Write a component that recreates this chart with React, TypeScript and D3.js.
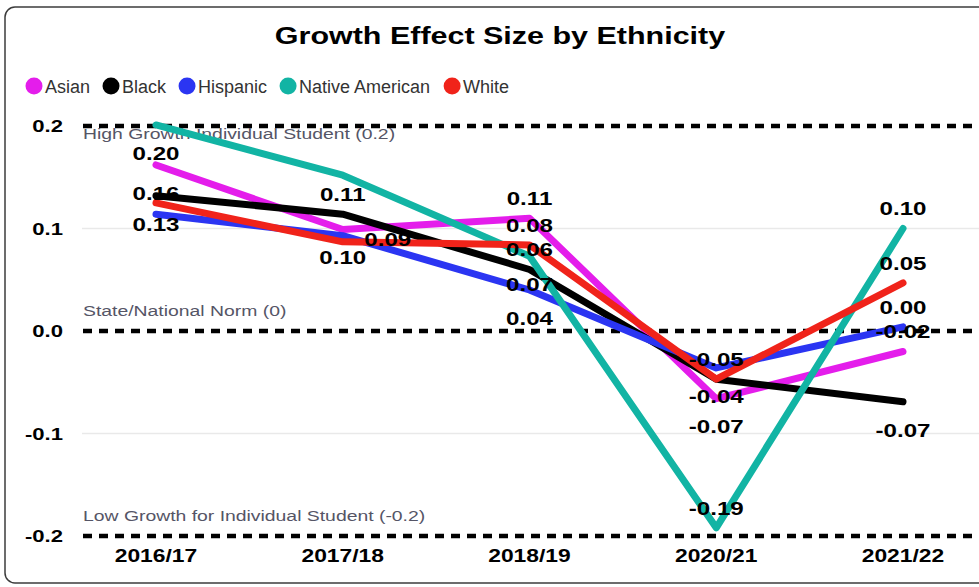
import React, { useMemo } from 'react';
import * as d3 from 'd3';

const categories = ['2016/17', '2017/18', '2018/19', '2020/21', '2021/22'];
const seriesNames = ['Asian', 'Black', 'Hispanic', 'Native American', 'White'];
const asian = [0.162, 0.099, 0.110, -0.066, -0.020];
const black = [0.132, 0.114, 0.060, -0.047, -0.069];
const hispanic = [0.114, 0.093, 0.040, -0.036, 0.004];
const nativeAmerican = [0.201, 0.152, 0.073, -0.192, 0.100];
const white = [0.125, 0.087, 0.084, -0.047, 0.047];
const seriesColors = ['#E41DEB', '#000000', '#2B35F2', '#12B4A4', '#F0231A'];

const yTicks = [0.2, 0.1, 0.0, -0.1, -0.2];
const refValues = [0.2, 0.0, -0.2];
const refTexts = ['High Growth Individual Student (0.2)', 'State/National Norm (0)', 'Low Growth for Individual Student (-0.2)'];
const refTextPlacement = ['below', 'above', 'above'];

// data labels that are shown: [series, category index, placement]
const shownLabels: [string, number, string][] = [
  ['Native American', 0, 'below'], ['Asian', 0, 'below'], ['Black', 0, 'below'],
  ['Black', 1, 'above'], ['White', 1, 'right'], ['Asian', 1, 'below'],
  ['Asian', 2, 'above'], ['White', 2, 'above'], ['Black', 2, 'above'], ['Native American', 2, 'below'], ['Hispanic', 2, 'below'],
  ['White', 3, 'above'], ['Hispanic', 3, 'below'], ['Asian', 3, 'below'], ['Native American', 3, 'above'],
  ['Native American', 4, 'above'], ['White', 4, 'above'], ['Hispanic', 4, 'above'], ['Asian', 4, 'above'], ['Black', 4, 'below'],
];

const W = 979;
const H = 587;
const STRETCH = 1.27;

export default function App() {
  const seriesValues = [asian, black, hispanic, nativeAmerican, white];
  const x = d3.scalePoint<string>().domain(categories).range([156, 903]);
  const y = d3.scaleLinear().domain([-0.2, 0.2]).range([536, 126]);
  const line = d3.line<number>().x((_, i) => x(categories[i]) as number).y((v) => y(v));

  const legend = useMemo(() => {
    const canvas = document.createElement('canvas');
    const ctx = canvas.getContext('2d')!;
    ctx.font = '18px "Liberation Sans", Arial, sans-serif';
    let cx = 34;
    return seriesNames.map((name, i) => {
      const w = ctx.measureText(name).width;
      const item = { name, color: seriesColors[i], cx, tx: cx + 11 };
      cx = cx + 11 + w + 21;
      return item;
    });
  }, []);

  const gridStart = 82;
  const boldFont = '"Liberation Sans", Arial, sans-serif';

  return (
    <svg width={W} height={H} style={{ position: 'fixed', left: 0, top: 0, background: '#fff' }}>
      <rect x={5} y={7} width={1000} height={576} rx={10} ry={10} fill="#fff" stroke="#3c3c3c" strokeWidth={1.5} />
      <text transform={`translate(500,44) scale(${STRETCH},1)`} textAnchor="middle" fontFamily={boldFont} fontWeight="bold" fontSize={24} fill="#000">
        Growth Effect Size by Ethnicity
      </text>
      {legend.map((l) => (
        <g key={l.name}>
          <circle cx={l.cx} cy={86} r={8.5} fill={l.color} />
          <text x={l.tx} y={92.5} fontFamily={boldFont} fontSize={18} fill="#333">{l.name}</text>
        </g>
      ))}
      {yTicks.filter((t) => !refValues.includes(t)).map((t) => (
        <line key={'g' + t} x1={gridStart} x2={W} y1={y(t)} y2={y(t)} stroke="#e9e9e9" strokeWidth={1.5} />
      ))}
      {refValues.map((v, i) => (
        <g key={'r' + v}>
          <line x1={83} x2={W} y1={y(v)} y2={y(v)} stroke="#000" strokeWidth={4.5} strokeDasharray="9 7" />
          <text transform={`translate(83,${refTextPlacement[i] === 'below' ? y(v) + 13 : y(v) - 15.5}) scale(1.25,1)`} fontFamily={boldFont} fontSize={15.5} fill="#555566">
            {refTexts[i]}
          </text>
        </g>
      ))}
      {yTicks.map((t) => (
        <text key={'t' + t} transform={`translate(63,${y(t) + 6}) scale(1.3,1)`} textAnchor="end" fontFamily={boldFont} fontWeight="bold" fontSize={17} fill="#000">
          {t.toFixed(1)}
        </text>
      ))}
      {categories.map((c) => (
        <text key={c} transform={`translate(${x(c)},562) scale(${STRETCH},1)`} textAnchor="middle" fontFamily={boldFont} fontWeight="bold" fontSize={18} fill="#000">
          {c}
        </text>
      ))}
      {seriesValues.map((vals, si) => (
        <path key={seriesNames[si]} d={line(vals) as string} fill="none" stroke={seriesColors[si]} strokeWidth={7} strokeLinejoin="round" strokeLinecap="round" />
      ))}
      {shownLabels.map(([name, i, pos]) => {
        const si = seriesNames.indexOf(name);
        const v = seriesValues[si][i];
        const px = (x(categories[i]) as number) + (pos === 'right' ? 45 : 0);
        const cy = y(v) + (pos === 'above' ? -20 : pos === 'below' ? 28 : -2.5);
        return (
          <text key={name + i} transform={`translate(${px},${cy + 6.8}) scale(${STRETCH},1)`} textAnchor="middle" fontFamily={boldFont} fontWeight="bold" fontSize={19} fill="#000">
            {v.toFixed(2)}
          </text>
        );
      })}
    </svg>
  );
}
